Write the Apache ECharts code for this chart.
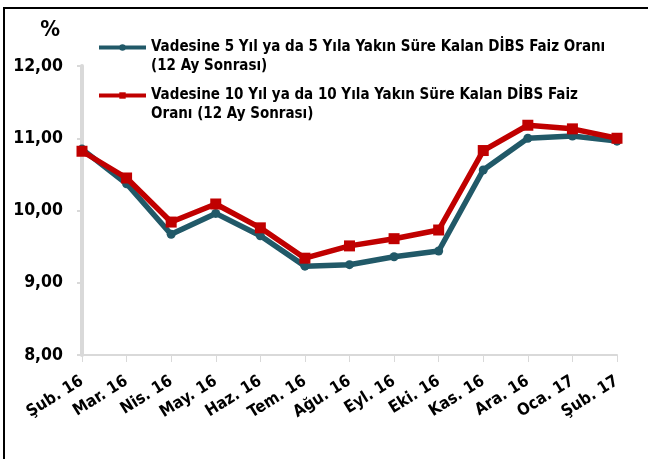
<!DOCTYPE html>
<html>
<head>
<meta charset="utf-8">
<script src="https://cdn.jsdelivr.net/npm/echarts@6/dist/echarts.min.js"></script>
<style>
  html, body { margin: 0; padding: 0; background: #fff; }
  #wrap { position: absolute; left: 0; top: 0; width: 648px; height: 459px; }
  #frame { position: absolute; left: 3px; top: 7px; width: 645px; height: 452px; border-top: 2px solid #000; border-left: 2px solid #000; }
  #chart { position: absolute; left: 0; top: 0; width: 648px; height: 459px; }
</style>
</head>
<body>
<div id="wrap">
  <div id="frame"></div>
  <div id="chart"></div>
</div>
<script>
var months = ['Şub. 16', 'Mar. 16', 'Nis. 16', 'May. 16', 'Haz. 16', 'Tem. 16', 'Ağu. 16', 'Eyl. 16', 'Eki. 16', 'Kas. 16', 'Ara. 16', 'Oca. 17', 'Şub. 17'];
var name5 = 'Vadesine 5 Yıl ya da 5 Yıla Yakın Süre Kalan DİBS Faiz Oranı\n(12 Ay Sonrası)';
var name10 = 'Vadesine 10 Yıl ya da 10 Yıla Yakın Süre Kalan DİBS Faiz\nOranı (12 Ay Sonrası)';
var rate5 = [10.85, 10.37, 9.67, 9.96, 9.65, 9.23, 9.25, 9.36, 9.44, 10.56, 11.00, 11.03, 10.96];
var rate10 = [10.82, 10.45, 9.84, 10.09, 9.76, 9.34, 9.51, 9.61, 9.73, 10.83, 11.18, 11.13, 11.00];

var font = '"DejaVu Sans Condensed", "DejaVu Sans", sans-serif';

// legend text gets an empty first line so the icon sits next to the first text line
function legendBox(name, top) {
    return {
        orient: 'vertical',
        left: 97,
        top: top,
        padding: 0,
        itemWidth: 47,
        itemHeight: 8,
        data: [name],
        lineStyle: { width: 4 },
        formatter: function (n) { return '\n' + n; },
        textStyle: {
            fontFamily: font,
            fontWeight: 'bold',
            fontSize: 15,
            color: '#000',
            lineHeight: 19
        }
    };
}

var myChart = echarts.init(document.getElementById('chart'), null, { renderer: 'canvas' });
var option = {
    animation: false,
    grid: { left: 82, right: 31, top: 66, bottom: 104 },
    legend: [legendBox(name5, 19), legendBox(name10, 67)],
    xAxis: {
        type: 'category',
        boundaryGap: false,
        data: months,
        axisLine: { lineStyle: { color: '#d9d9d9', width: 2 } },
        axisTick: { show: true, length: 7, lineStyle: { color: '#d9d9d9', width: 1 } },
        axisLabel: {
            rotate: 32,
            interval: 0,
            margin: 25,
            fontFamily: font,
            fontWeight: 'bold',
            fontSize: 16.5,
            color: '#000'
        }
    },
    yAxis: {
        type: 'value',
        min: 8,
        max: 12,
        interval: 1,
        name: '%',
        nameLocation: 'end',
        nameGap: 25,
        nameTextStyle: { fontFamily: font, fontWeight: 'bold', fontSize: 22, color: '#000', align: 'right', padding: [0, 22, 0, 0] },
        axisLine: { show: true, lineStyle: { color: '#d9d9d9', width: 4 } },
        axisTick: { show: true, length: 5, lineStyle: { color: '#d9d9d9', width: 2 } },
        splitLine: { show: false },
        axisLabel: {
            margin: 19,
            fontFamily: font,
            fontWeight: 'bold',
            fontSize: 17.5,
            color: '#000',
            formatter: function (v) { return v.toFixed(2).replace('.', ','); }
        }
    },
    series: [
        {
            name: name5,
            type: 'line',
            data: rate5,
            symbol: 'circle',
            symbolSize: 9,
            lineStyle: { color: '#215968', width: 5.5 },
            itemStyle: { color: '#215968' },
            z: 2
        },
        {
            name: name10,
            type: 'line',
            data: rate10,
            symbol: 'rect',
            symbolSize: 11,
            lineStyle: { color: '#c00000', width: 5.5 },
            itemStyle: { color: '#c00000' },
            z: 3
        }
    ]
};
myChart.setOption(option);
</script>
</body>
</html>
